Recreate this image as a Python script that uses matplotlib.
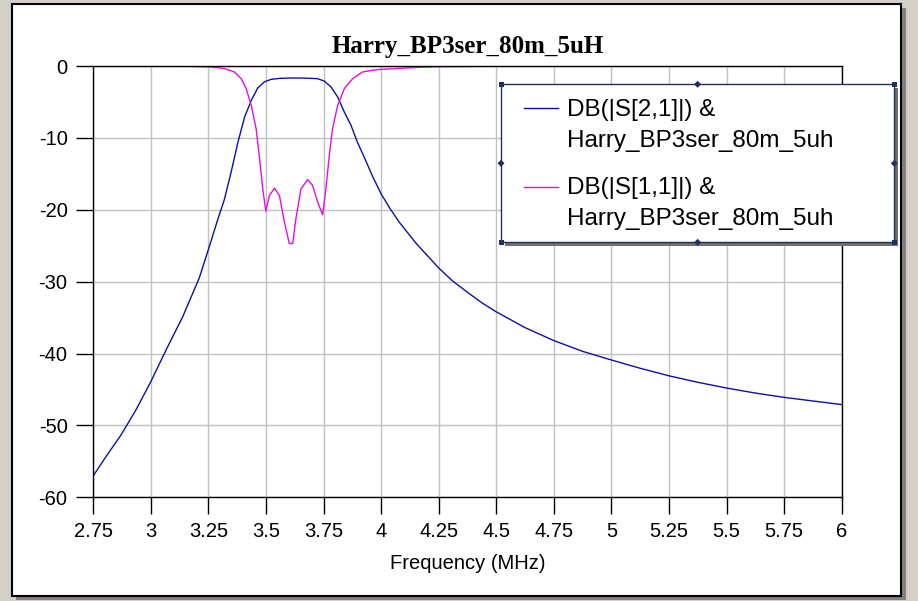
import matplotlib.pyplot as plt
import numpy as np
from matplotlib.patches import Rectangle, Polygon
from matplotlib.lines import Line2D
from matplotlib.transforms import Affine2D

# S21 trace (blue)
freq_s21 = [2.75, 2.806, 2.871, 2.936, 3.0, 3.066, 3.138, 3.21, 3.254, 3.29, 3.319,
            3.349, 3.378, 3.407, 3.436, 3.464, 3.493, 3.522, 3.56, 3.609, 3.66, 3.724,
            3.753, 3.782, 3.811, 3.84, 3.869, 3.897, 3.928, 3.965, 4.0, 4.04, 4.078,
            4.15, 4.207, 4.25, 4.31, 4.38, 4.44, 4.5, 4.625, 4.75, 4.875, 5.0, 5.125,
            5.25, 5.375, 5.5, 5.625, 5.75, 5.875, 6.0]
s21_db = [-57.0, -54.3, -51.3, -47.8, -43.9, -39.5, -34.9, -29.5, -25.1, -21.4, -18.6,
          -14.7, -10.6, -7.1, -4.8, -3.06, -2.2, -1.86, -1.72, -1.67, -1.68, -1.76,
          -2.1, -2.9, -4.3, -6.4, -8.25, -10.6, -12.8, -15.5, -17.8, -19.9, -21.7,
          -24.6, -26.6, -28.1, -29.9, -31.6, -33.0, -34.2, -36.4, -38.2, -39.7, -40.9, -42.05,
          -43.1, -44.0, -44.8, -45.5, -46.1, -46.6, -47.1]

# S11 trace (magenta)
freq_s11 = [2.75, 3.0, 3.16, 3.25, 3.29, 3.32, 3.363, 3.392, 3.414, 3.436, 3.457, 3.472,
            3.486, 3.499, 3.515, 3.537, 3.558, 3.58, 3.601, 3.616, 3.63, 3.652, 3.681,
            3.702, 3.724, 3.746, 3.76, 3.775, 3.789, 3.811, 3.84, 3.876, 3.919, 3.962,
            4.0, 4.078, 4.164, 4.25, 4.5, 6.0]
s11_db = [0.0, -0.02, -0.05, -0.12, -0.22, -0.37, -0.83, -1.76, -3.15, -5.5, -8.7, -12.9,
          -17.1, -20.2, -18.0, -17.0, -18.0, -21.7, -24.7, -24.7, -21.2, -17.1, -15.8,
          -16.6, -18.9, -20.7, -17.1, -12.4, -8.7, -5.5, -3.15, -1.76, -0.83, -0.6,
          -0.46, -0.33, -0.18, -0.1, -0.03, 0.0]

x_ticks = [2.75, 3, 3.25, 3.5, 3.75, 4, 4.25, 4.5, 4.75, 5, 5.25, 5.5, 5.75, 6]
y_ticks = [0, -10, -20, -30, -40, -50, -60]

title = "Harry_BP3ser_80m_5uH"
x_label = "Frequency (MHz)"
legend_labels = ["DB(|S[2,1]|) &\nHarry_BP3ser_80m_5uh",
                 "DB(|S[1,1]|) &\nHarry_BP3ser_80m_5uh"]
blue = "#1010a0"
magenta = "#e010e0"

W, H = 918, 601
fig = plt.figure(figsize=(W / 100, H / 100), dpi=100, facecolor="#d4d0c8")
# pixel coords measured from the top-left corner
px = Affine2D().scale(1 / W, -1 / H).translate(0, 1) + fig.transFigure

# window panel with a shadow
fig.add_artist(Rectangle((16, 8), 890, 592, transform=px, facecolor="#808080",
                         edgecolor="none", zorder=-10))
fig.add_artist(Rectangle((12, 4), 889, 591.5, transform=px, facecolor="white",
                         edgecolor="black", lw=1.5, zorder=-9))

ax = fig.add_axes([93.3 / W, 1 - 497.3 / H, (841.7 - 93.3) / W, (497.3 - 66) / H])
ax.set_facecolor("white")
ax.plot(freq_s21, s21_db, color=blue, lw=1)
ax.plot(freq_s11, s11_db, color=magenta, lw=1)

ax.set_xlim(2.75, 6)
ax.set_ylim(-60, 0)
ax.set_xticks(x_ticks)
ax.set_xticklabels([f"{v:g}" for v in x_ticks])
ax.set_yticks(y_ticks)
ax.set_yticklabels([f"{v:g}" for v in y_ticks])
ax.grid(True, color="#c0c0c0", lw=1)
ax.set_axisbelow(True)
for s in ax.spines.values():
    s.set_color("black")
    s.set_linewidth(1)
ax.tick_params(axis="both", direction="out", length=12, width=1, labelsize=14.5)
for lab in ax.get_xticklabels() + ax.get_yticklabels():
    lab.set_fontname("Liberation Sans")
ax.tick_params(axis="x", pad=5.5)
ax.tick_params(axis="y", pad=6.5)
ax.set_xlabel(x_label, fontsize=14.5, fontname="Liberation Sans", labelpad=9.5)
ax.set_title(title, fontsize=18, fontname="Liberation Serif", fontweight="bold", pad=9)

# legend box, drawn like the selected legend in the reference
lx0, ly0, lx1, ly1 = 501, 84.3, 894.3, 242.3
frame_col = "#1f3060"
fig.add_artist(Rectangle((lx0 + 4, ly0 + 4), lx1 - lx0, ly1 - ly0, transform=px,
                         facecolor="#707070", edgecolor="none", zorder=5))
fig.add_artist(Rectangle((lx0, ly0), lx1 - lx0, ly1 - ly0, transform=px,
                         facecolor="white", edgecolor=frame_col, lw=1, zorder=6))
for cx, cy in [(lx0, ly0), (lx1, ly0), (lx0, ly1), (lx1, ly1)]:
    fig.add_artist(Rectangle((cx - 2.5, cy - 2.5), 5, 5, transform=px,
                             facecolor=frame_col, edgecolor="none", zorder=7))
mx, my = (lx0 + lx1) / 2, (ly0 + ly1) / 2
for cx, cy in [(mx, ly0), (mx, ly1), (lx0, my), (lx1, my)]:
    d = 3.5
    fig.add_artist(Polygon([(cx - d, cy), (cx, cy - d), (cx + d, cy), (cx, cy + d)],
                           closed=True, transform=px, facecolor=frame_col,
                           edgecolor="none", zorder=7))

for i, (label, col) in enumerate(zip(legend_labels, [blue, magenta])):
    y_line = 108.3 + i * 79
    fig.add_artist(Line2D([524, 558], [y_line, y_line], transform=px, color=col,
                          lw=1, zorder=7))
    for j, part in enumerate(label.split("\n")):
        fig.text(567, 115.7 + i * 78.5 + j * 31, part, transform=px, fontsize=17.5,
                 fontname="Liberation Sans", va="baseline", ha="left", zorder=8)

fig.savefig("out.png", dpi=100, facecolor=fig.get_facecolor())
